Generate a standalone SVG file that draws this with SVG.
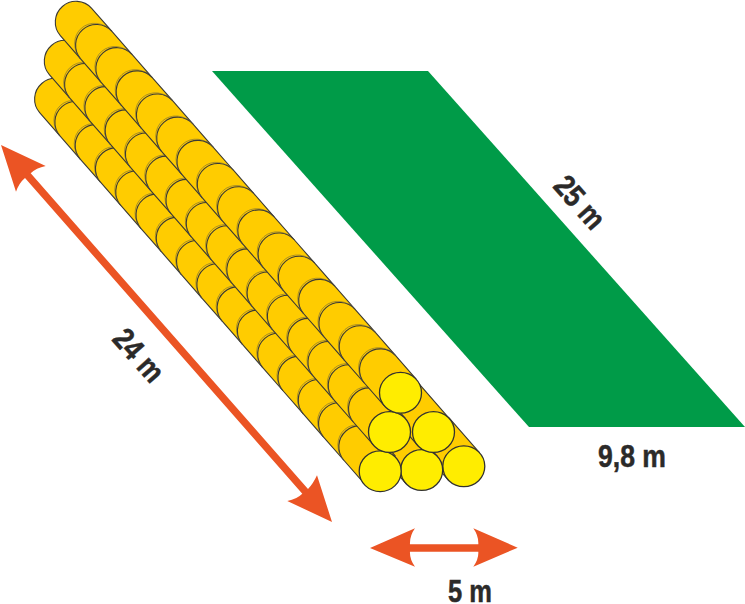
<svg xmlns="http://www.w3.org/2000/svg" width="745" height="604" viewBox="0 0 745 604">
<style>
.gold{fill:#ffcc00;stroke:#3a3935;stroke-width:1.1;stroke-linejoin:round}
.rim{fill:none;stroke:#55534c;stroke-width:.5}
.end{fill:#ffed00;stroke:#33322f;stroke-width:1.3}
.orange{fill:#eb5424}
.label{font-family:"Liberation Sans",Arial,sans-serif;font-weight:700;font-size:31px;fill:#2b2a29;stroke:#2b2a29;stroke-width:.5;text-anchor:middle}
</style>
<defs>
<path id="s0" class="gold" d="M4.63 36.87L-15.65 13.7A20.8 20.8 0 0 1 15.65 -13.7L35.93 9.47"/>
<g id="s">
<use href="#s0"/>
<path class="rim" d="M-15.65 13.7A20.8 22.4 -41.2 1 1 15.65 -13.7"/>
</g>
<g id="row">
<use href="#s0"/>
<use href="#s" x="20.28" y="23.17"/>
<use href="#s" x="40.56" y="46.34"/>
<use href="#s" x="60.84" y="69.51"/>
<use href="#s" x="81.12" y="92.68"/>
<use href="#s" x="101.4" y="115.85"/>
<use href="#s" x="121.68" y="139.02"/>
<use href="#s" x="141.96" y="162.19"/>
<use href="#s" x="162.24" y="185.36"/>
<use href="#s" x="182.52" y="208.53"/>
<use href="#s" x="202.8" y="231.7"/>
<use href="#s" x="223.08" y="254.87"/>
<use href="#s" x="243.36" y="278.04"/>
<use href="#s" x="263.64" y="301.21"/>
<use href="#s" x="283.92" y="324.38"/>
<use href="#s" x="304.2" y="347.55"/>
</g>
</defs>
<polygon id="field" points="212,71 428,71 745,427 529,427" fill="#009b48"/>
<g id="pile">
<path class="gold" d="M417.75 445.2L448.15 480L479.45 452.6L449.05 417.8"/>
<path class="gold" d="M375.35 448.7L406.05 483.7L437.35 456.3L406.65 421.3"/>
<path class="gold" d="M387.35 410.7L417.85 445.7L449.15 418.3L418.65 383.3"/>
<use href="#row" x="55.3" y="99"/>
<use href="#row" x="65" y="61"/>
<use href="#row" x="76" y="22"/>
<ellipse class="end" cx="463.8" cy="466.3" rx="21" ry="20.4"/>
<ellipse class="end" cx="421.7" cy="470" rx="21" ry="20.4"/>
<ellipse class="end" cx="380.2" cy="471.2" rx="21" ry="20.4"/>
<ellipse class="end" cx="433.5" cy="432" rx="21" ry="20.4"/>
<ellipse class="end" cx="389.5" cy="432" rx="21" ry="20.4"/>
<ellipse class="end" cx="400.5" cy="392.8" rx="21" ry="20.4"/>
</g>
<g id="arrows">
<path id="arrow-24" class="orange" d="M1 145L45.7 166Q36 168 30.7 173.3L308 489Q313 484 317 475.3L332 522L287.3 501Q297 499 302.3 493.7L25 178Q19 183 16 191.7Z"/>
<path id="arrow-5" class="orange" d="M370 548L415 528.3Q409.5 536 410 544.3H478.3Q478.8 536 473.3 528.3L517.7 547.7L473.3 566.7Q478.8 559 478.3 551.7H410Q409.5 559 415 566.7Z"/>
</g>
<g id="labels">
<text class="label" transform="translate(580 202) rotate(48.5)" y="11" textLength="60" lengthAdjust="spacingAndGlyphs">25 m</text>
<text class="label" transform="translate(139 355) rotate(48.5)" y="11" textLength="60" lengthAdjust="spacingAndGlyphs">24 m</text>
<text class="label" x="632" y="467" textLength="68" lengthAdjust="spacingAndGlyphs">9,8 m</text>
<text class="label" x="470" y="602" textLength="44" lengthAdjust="spacingAndGlyphs">5 m</text>
</g>
</svg>
